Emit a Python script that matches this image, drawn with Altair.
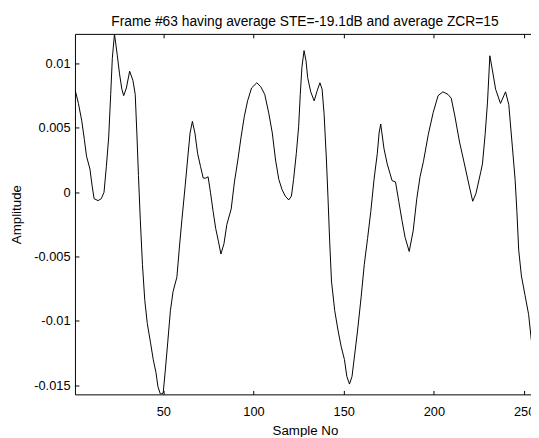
import altair as alt
import pandas as pd

samples = [1, 2.9, 4.7, 6.2, 7.4, 9.3, 10.5, 11.6, 13.8, 15.6, 17.1, 18.4, 19.7, 20.8, 21.7, 22.9,
           24.4, 25.7, 27.0, 28.0, 29.5, 31.3, 33.1, 34.4, 35.3, 36.2, 37.2, 38.4, 39.7, 41.1,
           42.9, 44.4, 45.9, 47.0, 48.4, 49.9, 51.1, 52.4, 53.9, 55.4, 57.5, 59.0, 60.3, 62.1,
           63.4, 64.8, 66.1, 67.5, 69.0, 70.6, 72.1, 73.5, 74.8, 76.1, 77.6, 79.0, 80.5, 81.9,
           83.6, 85.2, 87.6, 89.4, 91.3, 93.1, 94.9, 96.7, 98.9, 101.8, 104.0, 106.2, 108.5,
           110.4, 112.2, 114.0, 115.8, 117.6, 119.5, 121.0, 122.2, 123.7, 125.0, 125.9, 126.8,
           128.0, 129.1, 130.0, 131.7, 133.6, 135.3, 136.8, 138.0, 139.1, 140.4, 141.3, 142.2,
           143.2, 145.0, 146.8, 148.6, 150.4, 151.7, 153.2, 154.6, 155.9, 157.7, 159.6, 161.4,
           163.2, 165.0, 166.8, 168.6, 169.6, 170.5, 172.3, 174.1, 176.8, 178.7, 180.5, 182.3,
           184.0, 186.3, 188.5, 190.5, 192.3, 194.2, 196.9, 199.6, 202.3, 205.0, 207.8, 209.6,
           211.5, 214.2, 216.9, 219.7, 221.5, 223.3, 226.0, 226.9, 228.4, 229.7, 231.0, 232.4,
           234.2, 236.9, 239.7, 241.5, 243.5, 245.0, 246.0, 247.0, 248.5, 250.5, 252.5, 254.0]

amplitude = [0.0080, 0.0069, 0.0056, 0.0041, 0.0028, 0.0018, 0.0005, -0.0005, -0.00065, -0.0005,
             0.0000, 0.0020, 0.0043, 0.0076, 0.0104, 0.0123, 0.0107, 0.0092, 0.0080, 0.0075,
             0.0081, 0.0094, 0.0087, 0.0076, 0.0046, 0.0013, -0.0021, -0.0056, -0.0084, -0.0102,
             -0.0117, -0.0130, -0.0140, -0.0151, -0.0157, -0.0156, -0.0138, -0.0117, -0.0092,
             -0.0077, -0.0066, -0.0041, -0.0021, 0.0005, 0.0025, 0.0046, 0.0055, 0.0046, 0.0030,
             0.0020, 0.0011, 0.0011, 0.0012, 0.0000, -0.0015, -0.0028, -0.0038, -0.0048, -0.0040,
             -0.0025, -0.0013, 0.0008, 0.0025, 0.0043, 0.0059, 0.0071, 0.0081, 0.0085, 0.0082,
             0.0076, 0.0061, 0.0046, 0.0025, 0.0010, 0.0002, -0.0003, -0.0006, -0.0003, 0.0010,
             0.0030, 0.0051, 0.0076, 0.0097, 0.0110, 0.0102, 0.0089, 0.0078, 0.0071, 0.0079,
             0.0085, 0.0080, 0.0061, 0.0025, -0.0005, -0.0038, -0.0069, -0.0092, -0.0107, -0.0120,
             -0.0130, -0.0143, -0.0149, -0.0143, -0.0128, -0.0107, -0.0082, -0.0056, -0.0036,
             -0.0015, 0.0010, 0.0030, 0.0046, 0.0053, 0.0034, 0.0022, 0.0009, 0.0008, -0.0007,
             -0.0022, -0.0035, -0.0046, -0.0030, -0.0005, 0.0012, 0.0024, 0.0045, 0.0062, 0.0075,
             0.0078, 0.0076, 0.0073, 0.0060, 0.0039, 0.0022, 0.0004, -0.0007, -0.0001, 0.0016,
             0.0022, 0.0045, 0.0070, 0.0106, 0.0095, 0.0080, 0.0069, 0.0078, 0.0068, 0.0035,
             0.0010, -0.0015, -0.0045, -0.0065, -0.0080, -0.0095, -0.0115]

x_ticks = [50, 100, 150, 200, 250]
y_ticks = [-0.015, -0.01, -0.005, 0, 0.005, 0.01]
x_domain = [1, 256]
y_domain = [-0.0157, 0.0123]
title_text = "Frame #63 having average STE=-19.1dB and average ZCR=15"
x_title = "Sample No"
y_title = "Amplitude"

df = pd.DataFrame({"Sample": samples, "Amplitude": amplitude})

FONT = "Liberation Sans"

x_scale = alt.Scale(domain=x_domain, nice=False, zero=False)
y_scale = alt.Scale(domain=y_domain, nice=False, zero=False)

common_axis = dict(
    labelFont=FONT,
    labelFontSize=13,
    labelColor="black",
    tickColor="black",
    tickWidth=1,
    titleFont=FONT,
    titleFontSize=13.5,
    titleFontWeight="normal",
    titleColor="black",
    grid=False,
    domain=False,
    offset=-4,
    tickSize=4,
)

y_enc = alt.Y(
    "Amplitude:Q",
    scale=y_scale,
    axis=alt.Axis(
        values=y_ticks,
        labelExpr="'' + datum.value",
        title=y_title,
        labelPadding=5,
        titlePadding=10,
        **common_axis,
    ),
)

line = alt.Chart(df).mark_line(color="black", strokeWidth=1, clip=True).encode(
    x=alt.X(
        "Sample:Q",
        scale=x_scale,
        axis=alt.Axis(
            orient="bottom",
            values=x_ticks,
            title=x_title,
            labelPadding=11,
            titlePadding=6,
            **common_axis,
        ),
    ),
    y=y_enc,
)

top_ticks = alt.Chart(df).mark_line(strokeOpacity=0, clip=True).encode(
    x=alt.X(
        "Sample:Q",
        scale=x_scale,
        axis=alt.Axis(
            orient="top",
            values=x_ticks,
            labels=False,
            title=None,
            **common_axis,
        ),
    ),
    y=y_enc,
)

chart = (
    alt.layer(line, top_ticks)
    .resolve_axis(x="independent")
    .properties(
        width=467,
        height=366,
        background="white",
        padding={"left": 68, "top": 23, "right": -4, "bottom": 40},
        autosize=alt.AutoSizeParams(type="none"),
        title=alt.TitleParams(
            text=title_text,
            font=FONT,
            fontSize=14,
            fontWeight="normal",
            color="black",
            anchor="middle",
            frame="group",
            baseline="bottom",
            offset=6,
            dy=15,
        ),
    )
    .configure_view(stroke="black", strokeWidth=1)
)

chart.save("out.html", embed_options={"renderer": "svg", "actions": False})
